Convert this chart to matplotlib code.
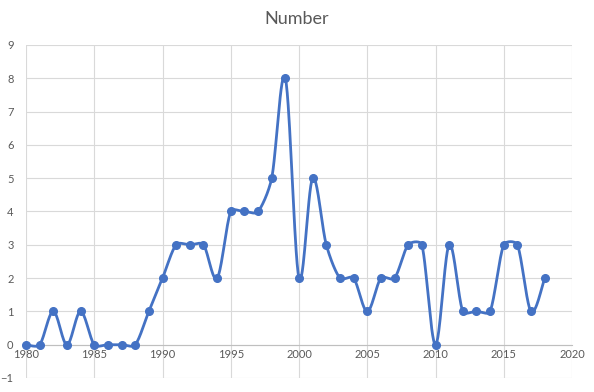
import matplotlib.pyplot as plt
import numpy as np

plt.rcParams['font.family'] = ['Lato', 'DejaVu Sans']

years = list(range(1980, 2019))
number = [0, 0, 1, 0, 1, 0, 0, 0, 0, 1,
          2, 3, 3, 3, 2, 4, 4, 4, 5, 8,
          2, 5, 3, 2, 2, 1, 2, 2, 3, 3,
          0, 3, 1, 1, 1, 3, 3, 1, 2]

# pixel size of one data unit, used so the smoothing behaves like Excel's
PX_X = 546 / 40
PX_Y = 333 / 10


def limit(v, seg):
    # keep the control handle no longer than a third of the segment
    n = np.hypot(*v)
    m = np.hypot(*seg) / 3
    return v * (m / n) if n > m else v


def excel_smooth(x, y, n=30):
    pts = np.column_stack([np.asarray(x, float) * PX_X, np.asarray(y, float) * PX_Y])
    last = len(pts) - 1
    out = []
    for i in range(last):
        p0 = pts[max(i - 1, 0)]
        p1 = pts[i]
        p2 = pts[i + 1]
        p3 = pts[min(i + 2, last)]
        seg = p2 - p1
        c1 = p1 + limit((p2 - p0) / 6, seg)
        c2 = p2 - limit((p3 - p1) / 6, seg)
        t = np.linspace(0, 1, n)[:, None]
        out.append((1 - t) ** 3 * p1 + 3 * (1 - t) ** 2 * t * c1 + 3 * (1 - t) * t ** 2 * c2 + t ** 3 * p2)
    out = np.vstack(out)
    return out[:, 0] / PX_X, out[:, 1] / PX_Y


fig = plt.figure(figsize=(5.94, 3.92), dpi=100)
ax = fig.add_axes([26 / 594, 14 / 392, 546 / 594, 333 / 392])

sx, sy = excel_smooth(years, number)
color = '#4472C4'
ax.plot(sx, sy, color=color, lw=2.0, zorder=3, solid_capstyle='round', clip_on=False)
ax.plot(years, number, 'o', color=color, ms=5.5, zorder=4, clip_on=False)

ax.set_xlim(1980, 2020)
ax.set_ylim(-1, 9)
ax.set_xticks(range(1980, 2021, 5))
ax.set_yticks(range(-1, 10))
ax.grid(True, color='#D9D9D9', lw=0.8)
ax.set_axisbelow(True)

for s in ['top', 'right', 'left']:
    ax.spines[s].set_visible(False)
ax.spines['bottom'].set_position(('data', 0))
ax.spines['bottom'].set_color('#BFBFBF')
ax.tick_params(length=0, labelsize=8, colors='#595959', pad=3)
ax.tick_params(axis='y', pad=9)

fig.text(0.5, 0.952, 'Number', ha='center', va='center', fontsize=13, color='#595959')

fig.savefig('out.png', dpi=100)
